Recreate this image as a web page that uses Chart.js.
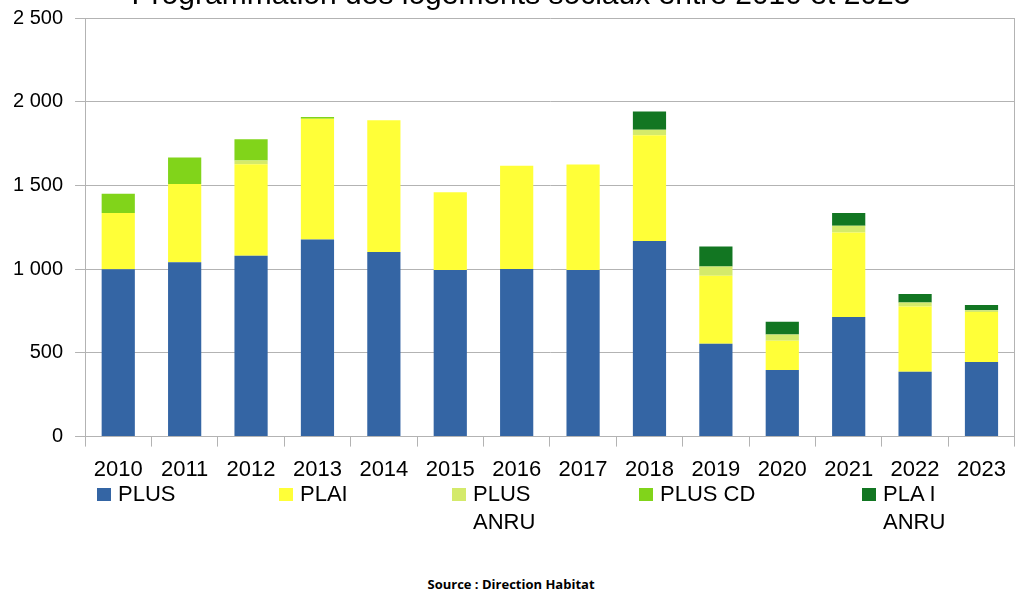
<!DOCTYPE html>
<html>
<head>
<meta charset="utf-8">
<script src="https://cdn.jsdelivr.net/npm/chart.js@4"></script>
<style>
    body{margin:0;background:#fff;width:1016px;height:591px;overflow:hidden;position:relative;font-family:"Liberation Sans",Arial,sans-serif;}
    #box{position:absolute;left:0;top:0;width:1016px;height:493px;}
    #legend{position:absolute;left:97px;top:480px;display:grid;grid-template-columns:182px 173px 187px 223px auto;}
    .item{display:flex;align-items:flex-start;font-size:22px;line-height:28px;color:#000;}
    .swatch{width:14px;height:13px;margin-top:8px;margin-right:7px;flex:none;}
    .txt{max-width:100px;}
    #source{position:absolute;left:0;width:1022px;top:574px;line-height:20px;text-align:center;font-family:"Open Sans","Noto Sans",sans-serif;font-weight:bold;font-size:13px;color:#000;}
</style>
</head>
<body>
<div id="box"><canvas id="chart"></canvas></div>
<div id="legend"></div>
<div id="source">Source : Direction Habitat</div>
<script>
const years=["2010","2011","2012","2013","2014","2015","2016","2017","2018","2019","2020","2021","2022","2023"];
const plus=[1000,1042,1080,1177,1102,995,1001,995,1168,555,398,714,388,446];
const plai=[336,466,547,722,787,465,616,630,632,406,175,505,389,298];
const plusAnru=[0,0,22,0,0,0,0,0,32,55,37,40,24,10];
const plusCd=[114,159,127,10,0,0,0,0,0,0,0,0,0,0];
const plaiAnru=[0,0,0,0,0,0,0,0,109,119,76,76,50,32];
const seriesNames=["PLUS","PLAI","PLUS ANRU","PLUS CD","PLA I ANRU"];
const colors=["#3465a4","#ffff38","#d4ea6b","#81d41a","#127622"];
const title="Programmation des logements sociaux entre 2010 et 2023";

const grid="#b3b3b3";

function fmt(v){
    if(v<1000)
        return String(v);
    const r=v%1000;
    return Math.floor(v/1000)+" "+String(r).padStart(3,"0");
}

// the title sits mostly above the picture, only its bottom shows
const titlePlugin={
    id:"cutTitle",
    afterDraw(chart){
        const ctx=chart.ctx;
        ctx.save();
        ctx.font="30px 'Liberation Sans'";
        ctx.fillStyle="#000";
        ctx.textAlign="center";
        ctx.textBaseline="alphabetic";
        ctx.fillText(title,521,4);
        ctx.restore();
    }
};

const values=[plus,plai,plusAnru,plusCd,plaiAnru];

const chart=new Chart(document.getElementById("chart"),{
    type:"bar",
    data:{
        labels:years,
        datasets:seriesNames.map((n,i)=>({
            label:n,
            data:values[i],
            backgroundColor:colors[i],
            categoryPercentage:1,
            barPercentage:0.5
        }))
    },
    options:{
        responsive:true,
        maintainAspectRatio:false,
        animation:false,
        layout:{
            padding:{left:1,top:18,right:1,bottom:0}
        },
        plugins:{
            legend:{display:false},
            tooltip:{enabled:false}
        },
        scales:{
            x:{
                stacked:true,
                grid:{
                    offset:true,
                    drawOnChartArea:false,
                    color:grid,
                    tickLength:10
                },
                border:{color:grid},
                ticks:{
                    color:"#000",
                    padding:10,
                    font:{family:"Liberation Sans",size:22}
                }
            },
            y:{
                stacked:true,
                min:0,
                max:2500,
                grid:{
                    color:grid,
                    tickLength:10
                },
                border:{color:grid},
                ticks:{
                    stepSize:500,
                    color:"#000",
                    padding:12,
                    font:{family:"Liberation Sans",size:20,lineHeight:0.6},
                    callback:v=>fmt(v)
                }
            },
            yr:{
                position:"right",
                min:0,
                max:2500,
                grid:{display:false,drawTicks:false},
                border:{color:grid},
                ticks:{display:false}
            }
        }
    },
    plugins:[titlePlugin]
});

const legend=document.getElementById("legend");
seriesNames.forEach((n,i)=>{
    const item=document.createElement("div");
    item.className="item";
    const sw=document.createElement("span");
    sw.className="swatch";
    sw.style.background=colors[i];
    const t=document.createElement("span");
    t.className="txt";
    t.textContent=n;
    item.appendChild(sw);
    item.appendChild(t);
    legend.appendChild(item);
});
</script>
</body>
</html>
